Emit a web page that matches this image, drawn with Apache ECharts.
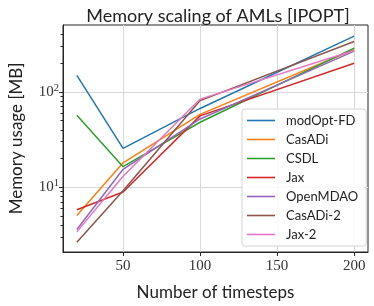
<!DOCTYPE html>
<html>
<head>
<meta charset="utf-8">
<script src="https://cdn.jsdelivr.net/npm/echarts@6/dist/echarts.min.js"></script>
<style>html,body{margin:0;padding:0;background:#fff}#c{width:374px;height:306px}</style>
</head>
<body>
<div id="c"></div>
<script>
var timesteps = [20, 50, 100, 200];
var modOptFD = [149, 25.5, 67, 385];
var casadi = [5.05, 18, 58, 278];
var csdl = [57, 16.4, 48, 288];
var jax = [5.8, 8.9, 56, 200];
var openmdao = [3.6, 15.4, 52, 268];
var casadi2 = [2.64, 9.2, 81, 338];
var jax2 = [3.4, 13, 84, 272];
var seriesNames = ['modOpt-FD', 'CasADi', 'CSDL', 'Jax', 'OpenMDAO', 'CasADi-2', 'Jax-2'];
var seriesValues = [modOptFD, casadi, csdl, jax, openmdao, casadi2, jax2];
var colors = ['#1f77b4', '#ff7f0e', '#2ca02c', '#d62728', '#9467bd', '#8c564b', '#e377c2'];
var xTicks = [50, 100, 150, 200];
var yMajor = [10, 100];
var yMinor = [3, 4, 5, 6, 7, 8, 9, 20, 30, 40, 50, 60, 70, 80, 90, 200, 300, 400];

var chart = echarts.init(document.getElementById('c'), null, {renderer: 'canvas'});
var serifFont = 'Liberation Serif';
var sansFont = 'Lato';
var yMin = 2.09, yMax = 503;

var series = seriesNames.map(function (n, i) {
  return {
    name: n, type: 'line', symbol: 'none', silent: true,
    data: timesteps.map(function (x, j) { return [x, seriesValues[i][j]]; }),
    lineStyle: {width: 1.5, color: colors[i]},
    itemStyle: {color: colors[i]},
    z: 3
  };
});

chart.setOption({
  animation: false,
  title: {
    text: 'Memory scaling of AMLs [IPOPT]', left: 213, top: 2, textAlign: 'center',
    textStyle: {fontFamily: sansFont, fontSize: 18, fontWeight: 'normal', color: '#222'}
  },
  grid: {left: 58, right: 6, top: 25, bottom: 51, show: true, borderColor: '#262626', borderWidth: 1, backgroundColor: 'transparent'},
  legend: {
    orient: 'vertical', left: 242, top: 109, width: 119,
    padding: [5, 8, 5, 5], itemGap: 6, itemWidth: 28, itemHeight: 14,
    icon: 'path://M0,0 L28,0 L28,1.6 L0,1.6 Z', symbolKeepAspect: true,
    backgroundColor: 'rgba(255,255,255,0.85)', borderColor: '#d4d4d4', borderWidth: 1, borderRadius: 3,
    textStyle: {fontFamily: sansFont, fontSize: 13, color: '#222', padding: [0, 0, 0, 6]},
    data: seriesNames
  },
  xAxis: {
    type: 'value', min: 11, max: 209,
    name: 'Number of timesteps', nameLocation: 'middle', nameGap: 32,
    nameTextStyle: {fontFamily: sansFont, fontSize: 17, color: '#222'},
    axisLine: {show: true, lineStyle: {color: '#262626', width: 1}},
    axisTick: {show: true, length: 4, customValues: xTicks, lineStyle: {color: '#262626'}},
    axisLabel: {customValues: xTicks, fontFamily: serifFont, fontSize: 15, color: '#333', margin: 7},
    splitLine: {show: true, lineStyle: {color: '#d9d9d9', width: 1}}
  },
  yAxis: [{
    type: 'log', logBase: 10, min: yMin, max: yMax,
    name: 'Memory usage [MB]', nameLocation: 'middle', nameGap: 38, nameRotate: 90,
    nameTextStyle: {fontFamily: sansFont, fontSize: 17, color: '#222'},
    axisLine: {show: true, lineStyle: {color: '#262626', width: 1}},
    axisTick: {show: true, length: 4, customValues: yMajor, lineStyle: {color: '#262626'}},
    axisLabel: {
      customValues: yMajor, margin: 4, color: '#333',
      formatter: function (v) { return '{a|10}{b|' + Math.round(Math.log10(v)) + '}'; },
      rich: {
        a: {fontFamily: serifFont, fontSize: 15, color: '#333'},
        b: {fontFamily: serifFont, fontSize: 10.5, color: '#333', padding: [0, 0, 8, 0]}
      }
    },
    splitLine: {show: true, lineStyle: {color: '#d9d9d9', width: 1}}
  }, {
    type: 'log', logBase: 10, min: yMin, max: yMax, position: 'left',
    axisLine: {show: false},
    axisTick: {show: true, length: 2.5, customValues: yMinor, lineStyle: {color: '#262626'}},
    axisLabel: {show: false},
    splitLine: {show: false}
  }],
  series: series
});
</script>
</body>
</html>
